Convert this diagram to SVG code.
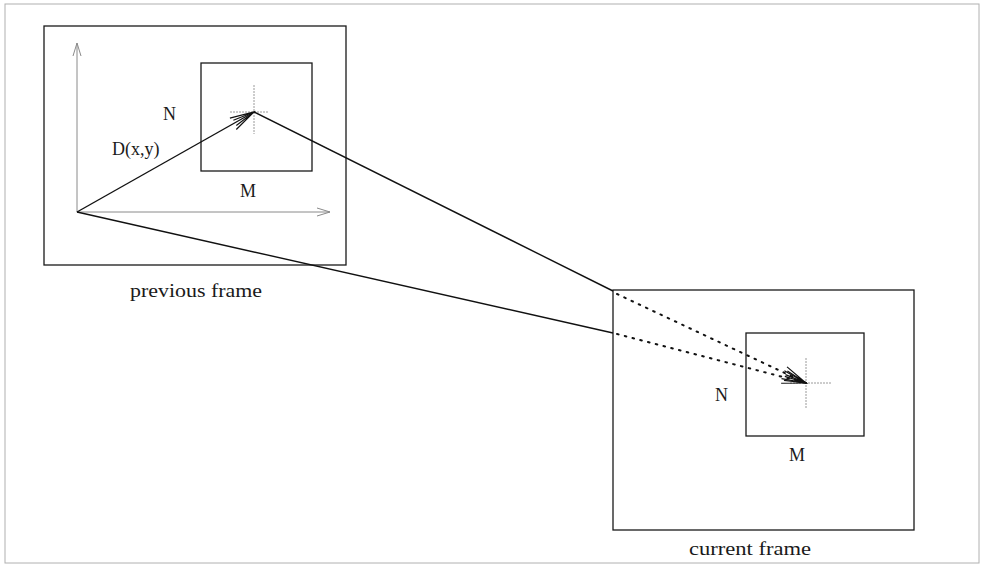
<svg xmlns="http://www.w3.org/2000/svg" width="982" height="566" viewBox="0 0 982 566">
<defs>
<style>
.frame{fill:none;stroke:#1a1a1a;stroke-width:1.3}
.axis{fill:none;stroke:#8a8a8a;stroke-width:1}
.cross{fill:none;stroke:#9a9a9a;stroke-width:1;stroke-dasharray:2 1}
.vec{fill:none;stroke:#111;stroke-width:1.4}
.dot{fill:none;stroke:#111;stroke-width:2;stroke-dasharray:1.6 6.4;stroke-linecap:round}
.lbl{font-family:"Liberation Serif","Times New Roman",serif;font-size:18px;fill:#1a1a1a}
.cap{font-family:"Liberation Serif","Times New Roman",serif;font-size:19px;fill:#1a1a1a}
</style>
<marker id="ah" markerWidth="30" markerHeight="20" refX="25" refY="10" orient="auto" markerUnits="userSpaceOnUse">
<path d="M1,3.5 L25,10 L1,16.5 M3,7 L25,10 L3,13" fill="none" stroke="#111" stroke-width="1.2"/>
</marker>
<marker id="axh" markerWidth="16" markerHeight="12" refX="14" refY="6" orient="auto" markerUnits="userSpaceOnUse">
<path d="M1,2 L14,6 L1,10" fill="none" stroke="#8a8a8a" stroke-width="1"/>
</marker>
</defs>
<rect x="5" y="4" width="974" height="559" fill="#fff" stroke="#b0b0b0" stroke-width="1"/>
<g id="previous-frame">
<rect class="frame" x="44" y="26" width="302" height="239"/>
<text class="cap" x="130" y="297" textLength="132" lengthAdjust="spacingAndGlyphs">previous frame</text>
</g>
<g id="axes">
<line class="axis" x1="77" y1="212" x2="77" y2="43" marker-end="url(#axh)"/>
<line class="axis" x1="77" y1="212" x2="330" y2="212" marker-end="url(#axh)"/>
</g>
<g id="prev-block">
<rect class="frame" x="201" y="63" width="111" height="108"/>
<line class="cross" x1="254" y1="85" x2="254" y2="134"/>
<line class="cross" x1="230" y1="112" x2="269" y2="112"/>
<text class="lbl" x="163" y="120">N</text>
<text class="lbl" x="240" y="197">M</text>
</g>
<g id="current-frame">
<rect class="frame" x="613" y="290" width="301" height="240"/>
<text class="cap" x="689" y="555" textLength="122" lengthAdjust="spacingAndGlyphs">current frame</text>
</g>
<g id="cur-block">
<rect class="frame" x="746" y="333" width="118" height="103"/>
<line class="cross" x1="806" y1="358" x2="806" y2="408"/>
<line class="cross" x1="790" y1="383" x2="831" y2="383"/>
<text class="lbl" x="715" y="401">N</text>
<text class="lbl" x="789" y="461">M</text>
</g>
<g id="connectors">
<line class="vec" x1="77" y1="212" x2="254" y2="112" marker-end="url(#ah)"/>
<text class="lbl" x="112" y="155">D(x,y)</text>
<line class="vec" x1="254" y1="112" x2="613" y2="291"/>
<line class="vec" x1="77" y1="212" x2="613" y2="333"/>
<line class="dot" x1="617" y1="294" x2="806" y2="383" marker-end="url(#ah)"/>
<line class="dot" x1="617" y1="334" x2="806" y2="383" marker-end="url(#ah)"/>
</g>
</svg>
